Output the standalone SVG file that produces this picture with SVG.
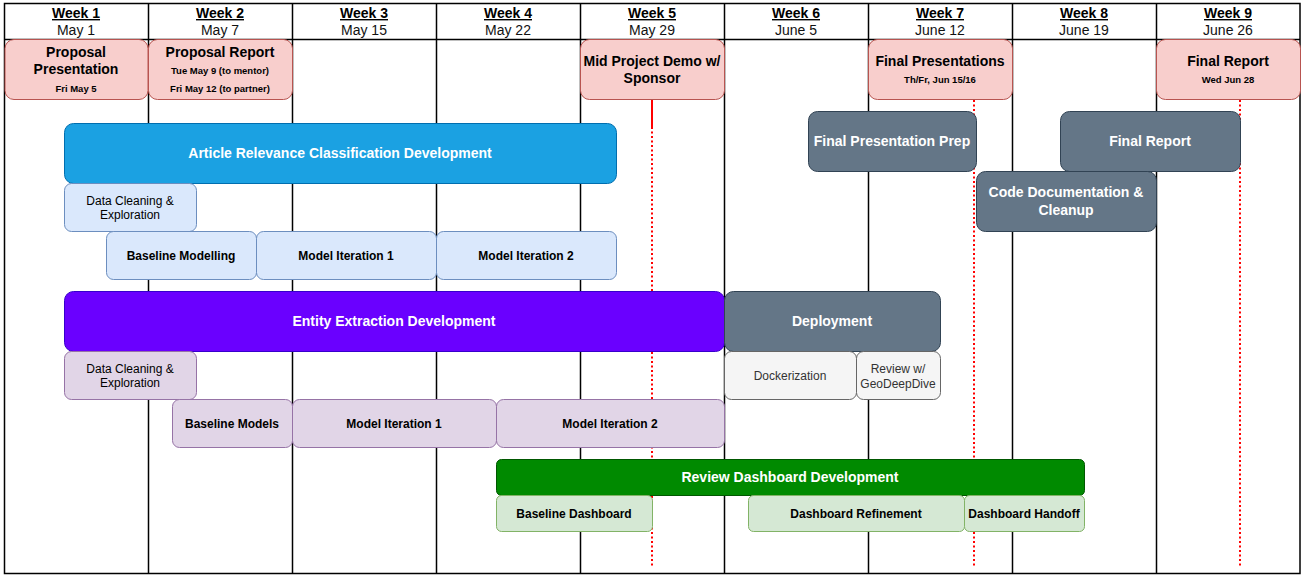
<svg xmlns="http://www.w3.org/2000/svg" width="1305" height="577" viewBox="0 0 1305 577">
<style>
text{font-family:"Liberation Sans",Arial,Helvetica,sans-serif;text-anchor:middle}
.wk{font-size:14px;font-weight:bold;text-decoration:underline;fill:#000}
.dt{font-size:14px;fill:#111}
.grid{stroke:#000;stroke-width:1.5;fill:none}
.ms rect{fill:#f8cecc;stroke:#b85450;stroke-width:1}
.ms .t{font-size:14px;font-weight:bold;fill:#000}
.ms .s{font-size:9.5px;font-weight:bold;fill:#000}
.blue rect{fill:#1ba1e2;stroke:#006eaf}
.purple rect{fill:#6a00ff;stroke:#3700cc}
.green rect{fill:#008a00;stroke:#005700}
.slate rect{fill:#647687;stroke:#314354}
.big{font-size:14px;font-weight:bold;fill:#fff}
.lb rect{fill:#dae8fc;stroke:#6c8ebf}
.lp rect{fill:#e1d5e7;stroke:#9673a6}
.lg rect{fill:#d5e8d4;stroke:#82b366}
.lgr rect{fill:#f5f5f5;stroke:#666666}
.r{font-size:12px;fill:#000}
.b{font-size:12px;font-weight:bold;fill:#000}
.g{font-size:12px;fill:#333}
.red{stroke:#ff0000;stroke-width:2;fill:none}
.dot{stroke-dasharray:2 2.5}
</style>
<rect x="0" y="0" width="1305" height="577" fill="#fff"/>
<g id="grid">
<rect class="grid" x="4.5" y="3.5" width="1295.5" height="570"/>
<line class="grid" x1="4.5" y1="39.5" x2="1300" y2="39.5"/>
<line class="grid" x1="148.5" y1="3.5" x2="148.5" y2="573.5"/>
<line class="grid" x1="292.5" y1="3.5" x2="292.5" y2="573.5"/>
<line class="grid" x1="436.5" y1="3.5" x2="436.5" y2="573.5"/>
<line class="grid" x1="580.5" y1="3.5" x2="580.5" y2="573.5"/>
<line class="grid" x1="724.5" y1="3.5" x2="724.5" y2="573.5"/>
<line class="grid" x1="868.5" y1="3.5" x2="868.5" y2="573.5"/>
<line class="grid" x1="1012.5" y1="3.5" x2="1012.5" y2="573.5"/>
<line class="grid" x1="1156.5" y1="3.5" x2="1156.5" y2="573.5"/>
</g>
<g id="header">
<text class="wk" x="76" y="18">Week 1</text><text class="dt" x="76" y="35">May 1</text>
<text class="wk" x="220" y="18">Week 2</text><text class="dt" x="220" y="35">May 7</text>
<text class="wk" x="364" y="18">Week 3</text><text class="dt" x="364" y="35">May 15</text>
<text class="wk" x="508" y="18">Week 4</text><text class="dt" x="508" y="35">May 22</text>
<text class="wk" x="652" y="18">Week 5</text><text class="dt" x="652" y="35">May 29</text>
<text class="wk" x="796" y="18">Week 6</text><text class="dt" x="796" y="35">June 5</text>
<text class="wk" x="940" y="18">Week 7</text><text class="dt" x="940" y="35">June 12</text>
<text class="wk" x="1084" y="18">Week 8</text><text class="dt" x="1084" y="35">June 19</text>
<text class="wk" x="1228" y="18">Week 9</text><text class="dt" x="1228" y="35">June 26</text>
</g>
<g id="connectors">
<line class="red" x1="652" y1="99" x2="652" y2="127"/>
<line class="red dot" x1="652" y1="127" x2="652" y2="567"/>
<line class="red dot" x1="974" y1="100" x2="974" y2="567"/>
<line class="red dot" x1="1240" y1="100" x2="1240" y2="567"/>
</g>
<g id="m-proposal-presentation" class="ms">
<rect x="5" y="39.5" width="143" height="60" rx="9"/>
<text class="t" x="76" y="57">Proposal</text><text class="t" x="76" y="74">Presentation</text>
<text class="s" x="76" y="92">Fri May 5</text>
</g>
<g id="m-proposal-report" class="ms">
<rect x="148.5" y="39.5" width="144" height="60" rx="9"/>
<text class="t" x="220" y="57">Proposal Report</text>
<text class="s" x="220" y="74">Tue May 9 (to mentor)</text>
<text class="s" x="220" y="92">Fri May 12 (to partner)</text>
</g>
<g id="m-mid-demo" class="ms">
<rect x="580.5" y="39.5" width="144" height="60" rx="9"/>
<text class="t" x="652" y="66">Mid Project Demo w/</text><text class="t" x="652" y="83">Sponsor</text>
</g>
<g id="m-final-presentations" class="ms">
<rect x="868.5" y="39.5" width="144" height="60" rx="9"/>
<text class="t" x="940" y="66">Final Presentations</text>
<text class="s" x="940" y="83">Th/Fr, Jun 15/16</text>
</g>
<g id="m-final-report" class="ms">
<rect x="1156.5" y="39.5" width="144" height="60" rx="9"/>
<text class="t" x="1228" y="66">Final Report</text>
<text class="s" x="1228" y="83">Wed Jun 28</text>
</g>
<g id="article-relevance" class="blue">
<rect x="64.5" y="123.5" width="552" height="60" rx="9"/>
<text class="big" x="340" y="158">Article Relevance Classification Development</text>
</g>
<g id="arc-data-cleaning" class="lb">
<rect x="64.5" y="183.5" width="132" height="48" rx="7"/>
<text class="r" x="130" y="205">Data Cleaning &amp;</text><text class="r" x="130" y="219">Exploration</text>
</g>
<g id="arc-baseline" class="lb">
<rect x="106.5" y="231.5" width="150" height="48" rx="7"/>
<text class="b" x="181" y="260">Baseline Modelling</text>
</g>
<g id="arc-iter1" class="lb">
<rect x="256.5" y="231.5" width="180" height="48" rx="7"/>
<text class="b" x="346" y="260">Model Iteration 1</text>
</g>
<g id="arc-iter2" class="lb">
<rect x="436.5" y="231.5" width="180" height="48" rx="7"/>
<text class="b" x="526" y="260">Model Iteration 2</text>
</g>
<g id="final-presentation-prep" class="slate">
<rect x="808.5" y="111.5" width="168" height="60" rx="9"/>
<text class="big" x="892" y="146">Final Presentation Prep</text>
</g>
<g id="final-report-task" class="slate">
<rect x="1060.5" y="111.5" width="180" height="60" rx="9"/>
<text class="big" x="1150" y="146">Final Report</text>
</g>
<g id="code-documentation" class="slate">
<rect x="976.5" y="171.5" width="180" height="60" rx="9"/>
<text class="big" x="1066" y="197">Code Documentation &amp;</text><text class="big" x="1066" y="215">Cleanup</text>
</g>
<g id="entity-extraction" class="purple">
<rect x="64.5" y="291.5" width="660" height="60" rx="9"/>
<text class="big" x="394" y="326">Entity Extraction Development</text>
</g>
<g id="deployment" class="slate">
<rect x="724.5" y="291.5" width="216" height="60" rx="9"/>
<text class="big" x="832" y="326">Deployment</text>
</g>
<g id="ee-data-cleaning" class="lp">
<rect x="64.5" y="351.5" width="132" height="48" rx="7"/>
<text class="r" x="130" y="373">Data Cleaning &amp;</text><text class="r" x="130" y="387">Exploration</text>
</g>
<g id="dockerization" class="lgr">
<rect x="724.5" y="351.5" width="132" height="48" rx="7"/>
<text class="g" x="790" y="380">Dockerization</text>
</g>
<g id="review-geodeepdive" class="lgr">
<rect x="856.5" y="351.5" width="84" height="48" rx="7"/>
<text class="g" x="898" y="373">Review w/</text><text class="g" x="898" y="388">GeoDeepDive</text>
</g>
<g id="ee-baseline" class="lp">
<rect x="172.5" y="399.5" width="120" height="48" rx="7"/>
<text class="b" x="232" y="428">Baseline Models</text>
</g>
<g id="ee-iter1" class="lp">
<rect x="292.5" y="399.5" width="204" height="48" rx="7"/>
<text class="b" x="394" y="428">Model Iteration 1</text>
</g>
<g id="ee-iter2" class="lp">
<rect x="496.5" y="399.5" width="228" height="48" rx="7"/>
<text class="b" x="610" y="428">Model Iteration 2</text>
</g>
<g id="review-dashboard" class="green">
<rect x="496.5" y="459.5" width="588" height="36" rx="5"/>
<text class="big" x="790" y="482">Review Dashboard Development</text>
</g>
<g id="baseline-dashboard" class="lg">
<rect x="496.5" y="495.5" width="156" height="36" rx="5"/>
<text class="b" x="574" y="518">Baseline Dashboard</text>
</g>
<g id="dashboard-refinement" class="lg">
<rect x="748.5" y="495.5" width="216" height="36" rx="5"/>
<text class="b" x="856" y="518">Dashboard Refinement</text>
</g>
<g id="dashboard-handoff" class="lg">
<rect x="964.5" y="495.5" width="120" height="36" rx="5"/>
<text class="b" x="1024" y="518">Dashboard Handoff</text>
</g>
</svg>
